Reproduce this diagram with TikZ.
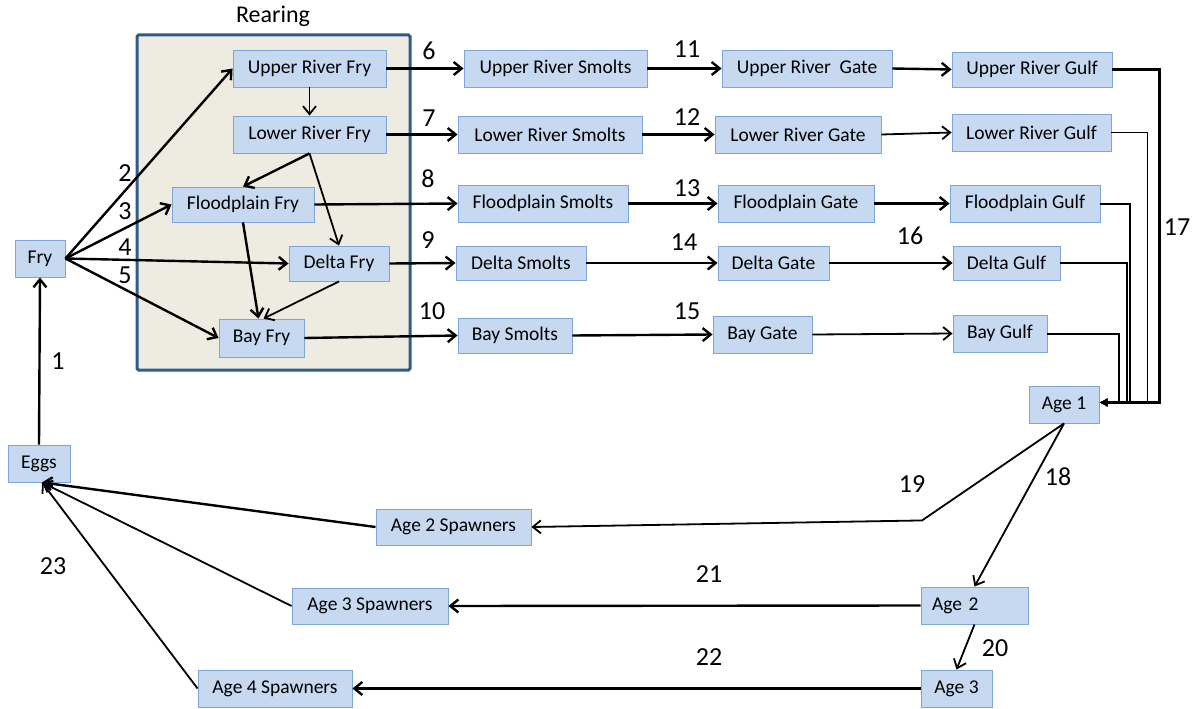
\documentclass[tikz,border=0pt]{standalone}
\usepackage{fontspec}
\setmainfont{Carlito}
\usetikzlibrary{arrows.meta}
\definecolor{boxfill}{HTML}{C6D9F0}
\definecolor{boxline}{HTML}{7FA4D8}
\definecolor{rearfill}{HTML}{EEECE1}
\definecolor{rearline}{HTML}{2E5C8A}
\tikzset{
  box/.style={draw=boxline, fill=boxfill, line width=0.9pt, inner sep=0pt,
    font=\fontsize{19.5}{22}\selectfont},
  rear/.style={draw=rearline, fill=rearfill, line width=3pt, rounded corners=1.5pt, inner sep=0pt},
  lbl/.style={font=\fontsize{26}{30}\selectfont, inner sep=0pt},
  arr/.style={line width=2.4pt, -{Straight Barb[length=8pt,width=13pt]}},
  tarr/.style={line width=1.8pt, -{Straight Barb[length=8pt,width=13pt]}},
  farr/.style={line width=2pt, -{Latex[length=8pt,width=9pt]}},
}
\begin{document}
\begin{tikzpicture}[x=1pt,y=-1pt]
\useasboundingbox (0,0) rectangle (1197,709);
% rearing region
\node[rear, minimum width=273pt, minimum height=335pt] (rearing) at (273.5,202.5) {};
\node[lbl, font=\fontsize{24}{28}\selectfont] (rearlbl) at (273,16) {Rearing};
% left nodes
\node[box, minimum width=50pt, minimum height=37pt] (fry) at (40,258.5) {Fry};
\node[box, minimum width=62pt, minimum height=37pt] (eggs) at (39,463.5) {Eggs};
% rearing nodes
\node[box, minimum width=153pt, minimum height=37pt] (urf) at (309.5,68.5) {Upper River Fry};
\node[box, minimum width=153pt, minimum height=37pt] (lrf) at (309.5,134.5) {Lower River Fry};
\node[box, minimum width=142pt, minimum height=35pt] (ff) at (243,204.5) {Floodplain Fry};
\node[box, minimum width=100pt, minimum height=35pt] (df) at (339,263.5) {Delta Fry};
\node[box, minimum width=85pt, minimum height=38pt] (bf) at (261.5,338) {Bay Fry};
% smolts
\node[box, minimum width=183pt, minimum height=37pt] (urs) at (555.5,68.5) {Upper River Smolts};
\node[box, minimum width=184pt, minimum height=37pt] (lrs) at (550,134.5) {Lower River Smolts};
\node[box, minimum width=170pt, minimum height=37pt] (fs) at (543,203.5) {Floodplain Smolts};
\node[box, minimum width=130pt, minimum height=34pt] (ds) at (521,263) {Delta Smolts};
\node[box, minimum width=114pt, minimum height=35pt] (bs) at (515,335.5) {Bay Smolts};
% gates
\node[box, minimum width=170pt, minimum height=37pt] (urg) at (807,68.5) {Upper River\ \ Gate};
\node[box, minimum width=166pt, minimum height=37pt] (lrg) at (798,134.5) {Lower River Gate};
\node[box, minimum width=156pt, minimum height=37pt] (fg) at (796,203.5) {Floodplain Gate};
\node[box, minimum width=111pt, minimum height=34pt] (dg) at (773.5,263) {Delta Gate};
\node[box, minimum width=99pt, minimum height=37pt] (bg) at (762.5,334.5) {Bay Gate};
% gulfs
\node[box, minimum width=160pt, minimum height=35pt] (urgu) at (1032,69.5) {Upper River Gulf};
\node[box, minimum width=159pt, minimum height=37pt] (lrgu) at (1031.5,132.5) {Lower River Gulf};
\node[box, minimum width=150pt, minimum height=37pt] (fgu) at (1025,203.5) {Floodplain Gulf};
\node[box, minimum width=107pt, minimum height=34pt] (dgu) at (1006.5,263) {Delta Gulf};
\node[box, minimum width=94pt, minimum height=37pt] (bgu) at (1000,333.5) {Bay Gulf};
% ages
\node[box, minimum width=70pt, minimum height=37pt] (age1) at (1064,404.5) {Age 1};
\node[box, minimum width=107pt, minimum height=37pt, text width=85pt, align=left] (age2) at (974.5,605.5) {Age 2};
\node[box, minimum width=71pt, minimum height=37pt] (age3) at (956.5,688.5) {Age 3};
\node[box, minimum width=155pt, minimum height=36pt] (a2s) at (453.5,527) {Age 2 Spawners};
\node[box, minimum width=156pt, minimum height=36pt] (a3s) at (370,606) {Age 3 Spawners};
\node[box, minimum width=154pt, minimum height=37pt] (a4s) at (275,688.5) {Age 4 Spawners};
% connectors: eggs to fry, fry to rearing
\draw[arr] (eggs.north) -- (fry.south);
\draw[arr] (fry.east) -- (urf.west);
\draw[arr] (fry.east) -- (ff.west);
\draw[arr] (fry.east) -- (df.west);
\draw[arr] (fry.east) -- (bf.west);
\draw[tarr] (urf.south) -- (lrf.north);
\draw[arr] (lrf.south) -- (ff.north);
\draw[tarr] (lrf.south) -- (df.north);
\draw[arr] (ff.south) -- ([xshift=-3pt]bf.north);
\draw[tarr] (df.south) -- ([xshift=2pt]bf.north);
% fry to smolts
\draw[arr] (urf.east) -- (urs.west);
\draw[arr] (lrf.east) -- (lrs.west);
\draw[arr] (ff.east) -- (fs.west);
\draw[arr] (df.east) -- (ds.west);
\draw[arr] (bf.east) -- (bs.west);
% smolts to gates
\draw[arr] (urs.east) -- (urg.west);
\draw[arr] (lrs.east) -- (lrg.west);
\draw[arr] (fs.east) -- (fg.west);
\draw[arr] (ds.east) -- (dg.west);
\draw[arr] (bs.east) -- (bg.west);
% gates to gulfs
\draw[arr] (urg.east) -- (urgu.west);
\draw[tarr] (lrg.east) -- (lrgu.west);
\draw[arr] (fg.east) -- (fgu.west);
\draw[arr] (dg.east) -- (dgu.west);
\draw[tarr] (bg.east) -- (bgu.west);
% gulfs to age 1
\draw[farr, line width=2.4pt] (urgu.east) -- ++(47,0) |- ([yshift=2pt]age1.east);
\draw[farr, line width=1.6pt] (lrgu.east) -- ++(36,0) |- ([yshift=2pt]age1.east);
\draw[farr] (fgu.east) -- ++(30,0) |- ([yshift=2pt]age1.east);
\draw[farr] (dgu.east) -- ++(67,0) |- ([yshift=2pt]age1.east);
\draw[farr] (bgu.east) -- ++(72,0) |- ([yshift=2pt]age1.east);
% ages
\draw[tarr] (age1.south) -- ++(-142,97) -- (a2s.east);
\draw[tarr] (age1.south) -- (age2.north);
\draw[tarr] (age2.south) -- (age3.north);
\draw[arr] (age2.west) -- (a3s.east);
\draw[arr] (age3.west) -- (a4s.east);
% spawners to eggs
\draw[arr] (a2s.west) -- ([xshift=3pt]eggs.south);
\draw[tarr] (a3s.west) -- ([xshift=3pt]eggs.south);
\draw[tarr] (a4s.west) -- ([xshift=3pt]eggs.south);
% labels
\node[lbl] (l1) at (58,361) {1};
\node[lbl] (l2) at (125,173) {2};
\node[lbl] (l3) at (125,211) {3};
\node[lbl] (l4) at (125,247) {4};
\node[lbl] (l5) at (125,275) {5};
\node[lbl] (l6) at (429,51) {6};
\node[lbl] (l7) at (429,118) {7};
\node[lbl] (l8) at (428,179) {8};
\node[lbl] (l9) at (428,240) {9};
\node[lbl] (l10) at (432,311) {10};
\node[lbl] (l11) at (687,49) {11};
\node[lbl] (l12) at (687,117) {12};
\node[lbl] (l13) at (687,188) {13};
\node[lbl] (l14) at (684,242) {14};
\node[lbl] (l15) at (687,311) {15};
\node[lbl] (l16) at (910,236) {16};
\node[lbl] (l17) at (1177,227) {17};
\node[lbl] (l18) at (1058,477) {18};
\node[lbl] (l19) at (912,484) {19};
\node[lbl] (l20) at (995,648) {20};
\node[lbl] (l21) at (709,574) {21};
\node[lbl] (l22) at (709,657) {22};
\node[lbl] (l23) at (53,566) {23};
\end{tikzpicture}
\end{document}
